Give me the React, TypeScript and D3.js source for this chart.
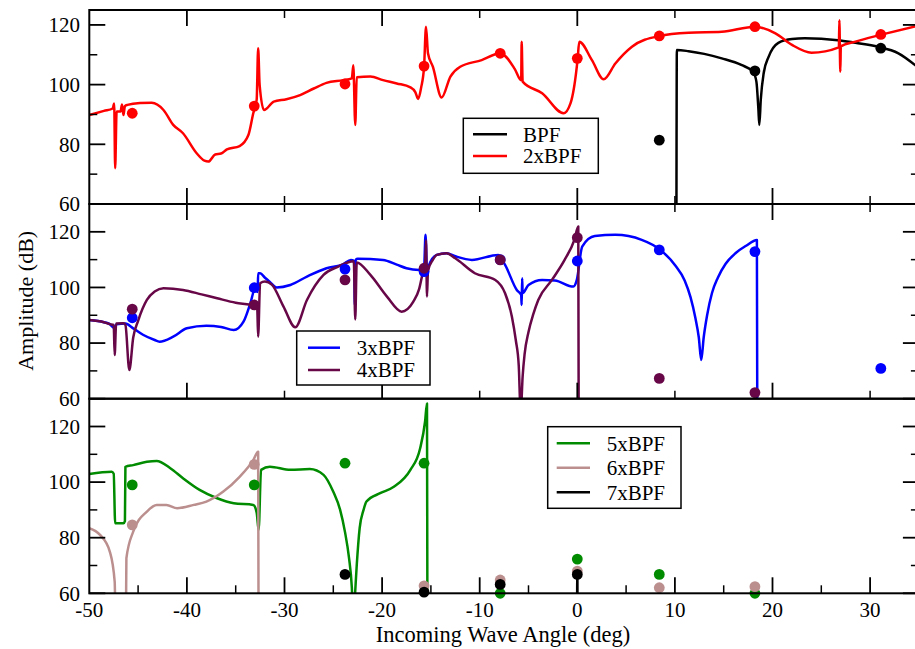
import React from 'react';
import * as d3 from 'd3';

type P = [number, number];

// ---------- data ----------
const xTickValues = [-50, -40, -30, -20, -10, 0, 10, 20, 30];
const yTickValues = [60, 80, 100, 120];

const bpfLine: P[] = [
  [10.15, 40], [10.2, 111.6], [11.4, 111.2], [13, 110.3], [14.8, 108.8], [16.8, 106.6], [18, 104.3],
  [18.35, 101], [18.55, 92], [18.65, 86.5], [18.8, 95], [19.1, 103.9], [19.6, 109.3], [20.6, 114], [22, 115.3],
  [23.3, 115.5], [26.7, 114.9], [28.5, 114], [30.8, 112.7], [32.9, 110.5], [35, 105.5],
];
const bpfDots: P[] = [[8.4, 81.4], [18.2, 104.6], [31.1, 112.2]];

const bpf2Line: P[] = [
  [-50, 89.8], [-48.5, 91.2], [-47.6, 92], [-47.45, 93.7], [-47.35, 72], [-47.2, 91], [-46.8, 91],
  [-46.65, 93.3], [-46.5, 89.8], [-46.35, 92.8], [-46.1, 93.2], [-44.8, 93.8], [-43.6, 93.9],
  [-42.4, 91.5], [-41.4, 86.5], [-40.4, 83.7], [-39, 77], [-38.2, 74.5], [-37.8, 74.2], [-37.1, 76.6],
  [-36.5, 76.9], [-35.9, 78.3], [-34.6, 79.4], [-33.7, 83.1], [-33.2, 90.4], [-32.85, 95],
  [-32.7, 112.2], [-32.55, 100], [-32.1, 91.5], [-31.1, 94.3], [-29.8, 95.1], [-28.4, 96.5],
  [-27, 98.7], [-25.7, 100.6], [-24, 101.5], [-23.1, 102.1], [-22.95, 106.5], [-22.75, 86.5],
  [-22.6, 102.5], [-21.2, 102.7], [-19.9, 101.5], [-18.5, 100.4], [-17.1, 99.1], [-16.6, 97.5],
  [-16.3, 95.2], [-16, 99], [-15.7, 106], [-15.5, 119.4], [-15.3, 110.5], [-14.8, 106], [-13.9, 95.7],
  [-13, 102.7], [-12, 106], [-9.8, 108.2], [-7.9, 110.5], [-6.4, 105.2], [-5.75, 101.5], [-5.7, 114.4],
  [-5.6, 101], [-3.6, 97.1], [-1.4, 90.4], [-0.7, 93.7], [0.04, 108.8], [0.2, 114.4], [1.5, 108.2],
  [2.7, 101.8], [3.9, 107.1], [5.6, 112.7], [8.4, 116.3], [11.4, 117.4], [14.8, 117.7], [18.2, 119.4],
  [20.3, 117.2], [22, 113.3], [24, 110.7], [26.8, 112.5], [26.85, 121.6], [26.95, 104.3], [27, 112.8],
  [28.5, 114.4], [31, 116.6], [35, 119.8],
];
const bpf2Dots: P[] = [
  [-45.6, 90.4], [-33.1, 92.8], [-23.8, 100.2], [-15.7, 106.2], [-7.9, 110.5], [0, 108.8],
  [8.4, 116.3], [18.2, 119.4], [31.1, 116.8],
];

const bpf3Line: P[] = [
  [-50, 88.3], [-48.5, 87.5], [-47.9, 86.8], [-47.5, 85.5], [-47.2, 86.8], [-46.3, 87], [-45.5, 85.3],
  [-44.5, 83], [-43.3, 81.1], [-42.8, 80.5], [-41.4, 82.3], [-40, 85.3], [-38, 86.2], [-36.5, 85.8],
  [-35.2, 84.7], [-34.2, 87.7], [-33.5, 94.3], [-33, 99.7], [-32.75, 98.4], [-32.7, 105.1],
  [-32.5, 105.1], [-32, 103.5], [-31.5, 102], [-30.8, 100], [-29.4, 100.9], [-27.7, 103.9],
  [-25.7, 106.9], [-24, 108.3], [-23.2, 109.9], [-22.85, 109.5], [-22.8, 93.7], [-22.7, 110],
  [-22.5, 110.3], [-19.9, 109.9], [-18.5, 108.2], [-17.5, 106.9], [-16.2, 106.3], [-15.7, 107],
  [-15.55, 118.9], [-15.4, 106], [-15.2, 108], [-14.4, 111.7], [-13.4, 112.3], [-12.5, 111.2],
  [-10.8, 109.9], [-8.1, 111.7], [-7.4, 108.1], [-6.2, 99.1], [-5.75, 97.3], [-5.7, 93.7],
  [-5.65, 103.3], [-5.6, 98], [-5, 100.9], [-3.6, 102.7], [-2.3, 102.5], [-0.4, 100.3], [-0.05, 102.7],
  [0.5, 114.7], [1.8, 118.5], [3.9, 118.9], [6.6, 117.1], [8.5, 113.5], [10, 108.1], [11, 102.5],
  [11.6, 96.5], [12.1, 89], [12.45, 82], [12.7, 73.9], [12.95, 82], [13.3, 90], [13.8, 98],
  [14.4, 103.5], [15.2, 108.5], [16.2, 112.3], [17.3, 115], [18.4, 117.1], [18.45, 40],
];
const bpf3Dots: P[] = [
  [-45.6, 89.1], [-33.1, 99.9], [-23.8, 106.6], [-15.7, 105.7], [-7.9, 110], [0, 109.5],
  [8.4, 113.5], [18.2, 112.9], [31.1, 70.9],
];

const bpf4Line: P[] = [
  [-50, 88.3], [-48.5, 87.5], [-47.9, 86.8], [-47.5, 86.5], [-47.4, 75.7], [-47.25, 87], [-46.5, 87.1],
  [-46.3, 86.5], [-45.9, 70.3], [-45.5, 82], [-45, 88], [-44.1, 95.5], [-43.3, 98.5], [-42.4, 99.7],
  [-40.4, 99.1], [-38.5, 97.5], [-36.9, 96.1], [-35, 94.5], [-33.2, 93.5], [-32.8, 93], [-32.7, 82.3],
  [-32.5, 101.5], [-32, 102.1], [-31.3, 101], [-30.1, 93.1], [-28.9, 85.7], [-27.7, 95.5], [-26, 104.5],
  [-24.5, 107.5], [-23.6, 108.9], [-22.9, 109.4], [-22.75, 88.5], [-22.6, 109], [-21.2, 104.5],
  [-19.5, 96.7], [-18, 91.3], [-16.8, 94.9], [-16.2, 99.5], [-15.8, 105.7], [-15.6, 108], [-15.5, 117],
  [-15.4, 96.7], [-15.3, 106], [-14.8, 109.9], [-14.4, 111.7], [-13.4, 112.3], [-12.5, 110.5],
  [-10.5, 105.1], [-8.4, 102.7], [-7.4, 97.9], [-6.7, 89.5], [-6.3, 81], [-6, 72], [-5.8, 55],
  [-5.6, 68], [-5.4, 76], [-5, 84], [-4.5, 90.5], [-4, 95.5], [-2.6, 102.7], [-1.3, 109.9],
  [-0.3, 117.1], [0.1, 121.9], [0.15, 40],
];
const bpf4Dots: P[] = [
  [-45.6, 92.2], [-33.1, 93.7], [-23.8, 102.7], [-15.7, 106.9], [-7.9, 109.9], [0, 117.9],
  [8.4, 67.3], [18.2, 62.2],
];

const bpf5Line: P[] = [
  [-50, 102.9], [-47.7, 103.7], [-47.5, 103], [-47.35, 85.2], [-46.5, 85.2], [-46.35, 86], [-46.3, 105.5],
  [-45.5, 106.1], [-44.1, 107.3], [-43.1, 107.6], [-41.7, 105], [-40.4, 101.4], [-38.7, 97.2],
  [-36.9, 94.2], [-35.2, 92.4], [-33.2, 91.8], [-32.85, 89], [-32.65, 82.8], [-32.4, 104.4],
  [-31.5, 105.5], [-29.4, 104.4], [-27.4, 104.7], [-26, 102.6], [-25, 96.5], [-24.3, 90], [-23.8, 82],
  [-23.4, 73], [-23.1, 62], [-22.95, 50], [-22.8, 58], [-22.6, 70], [-22.3, 83.4], [-21.9, 90],
  [-21.6, 93], [-20.2, 96], [-18.8, 98.3], [-17.1, 104.4], [-16.1, 112.2], [-15.6, 121.7],
  [-15.4, 128.3], [-15.35, 40],
];
const bpf5Dots: P[] = [
  [-45.6, 99], [-33.1, 99], [-23.8, 106.8], [-15.7, 106.8], [-7.9, 60], [0, 72.3], [8.4, 66.8], [18.2, 60],
];

const bpf6Line: P[] = [
  [-50, 83.4], [-48.9, 81], [-47.9, 75], [-47.4, 64.2], [-47.3, 50], [-46.25, 50], [-46.2, 72.6],
  [-45.5, 82.2], [-44.1, 89.4], [-43.1, 91.8], [-42.1, 91.8], [-41, 90.6], [-39.3, 91.8], [-38, 93],
  [-36.3, 96.5], [-34.6, 101.9], [-33.2, 107.9], [-32.7, 110.9], [-32.65, 40],
];
const bpf6Dots: P[] = [
  [-45.6, 84.6], [-33.1, 106.4], [-15.7, 62.7], [-7.9, 64.8], [0, 68], [8.4, 62], [18.2, 62.4],
];

const bpf7Line: P[] = [[-0.03, 40], [0, 66.8], [0.03, 40]];
const bpf7Dots: P[] = [[-23.8, 66.8], [-15.7, 60.4], [-7.9, 63.2], [0, 66.8]];

// ---------- layout ----------
const W = 915;
const H = 649;
const X0 = 89.3;
const X1 = 918.9;
const FONT = '"Liberation Serif", "Times New Roman", serif';

interface Series { name: string; color: string; line: P[]; dots: P[]; }
interface Panel {
  top: number; bottom: number; domain: [number, number];
  series: Series[];
  legend: { x: number; y: number; w: number; h: number; rows: number[]; lx0: number; lx1: number; tx: number };
  topTicks: boolean;
}

const panels: Panel[] = [
  {
    top: 10, bottom: 204, domain: [60, 125],
    series: [
      { name: 'BPF', color: '#000000', line: bpfLine, dots: bpfDots },
      { name: '2xBPF', color: '#ff0000', line: bpf2Line, dots: bpf2Dots },
    ],
    legend: { x: 463.3, y: 118.3, w: 135, h: 55, rows: [134.3, 156], lx0: 473, lx1: 507, tx: 523 },
    topTicks: true,
  },
  {
    top: 204, bottom: 398.7, domain: [60, 130],
    series: [
      { name: '3xBPF', color: '#0000ff', line: bpf3Line, dots: bpf3Dots },
      { name: '4xBPF', color: '#670748', line: bpf4Line, dots: bpf4Dots },
    ],
    legend: { x: 296.7, y: 331, w: 133.3, h: 54, rows: [347.7, 370], lx0: 308, lx1: 340, tx: 356.7 },
    topTicks: true,
  },
  {
    top: 398.7, bottom: 593.3, domain: [60, 130],
    series: [
      { name: '5xBPF', color: '#008b00', line: bpf5Line, dots: bpf5Dots },
      { name: '6xBPF', color: '#bc8f8f', line: bpf6Line, dots: bpf6Dots },
      { name: '7xBPF', color: '#000000', line: bpf7Line, dots: bpf7Dots },
    ],
    legend: { x: 547.7, y: 426.7, w: 133.3, h: 81.6, rows: [443.3, 467.7, 492.3], lx0: 556.7, lx1: 590, tx: 606.7 },
    topTicks: false,
  },
];

export default function App() {
  const x = d3.scaleLinear().domain([-50, 35]).range([X0, X1]);

  return (
    <svg width={W} height={H} style={{ position: 'absolute', left: 0, top: 0, background: '#fff' }}
      fontFamily={FONT}>
      <rect x={0} y={0} width={W} height={H} fill="#fff" />
      <defs>
        {panels.map((p, i) => (
          <clipPath id={`clip${i}`} key={i}>
            <rect x={X0} y={p.top} width={X1 - X0} height={p.bottom - p.top} />
          </clipPath>
        ))}
      </defs>
      {panels.map((p, i) => {
        const y = d3.scaleLinear().domain(p.domain).range([p.bottom, p.top]);
        const line = d3.line<P>().x(d => x(d[0])).y(d => y(d[1])).curve(d3.curveMonotoneX);
        const yMinor = d3.range(p.domain[0] + 10, p.domain[1], 20);
        const isLast = i === panels.length - 1;
        const xMajBottom = isLast ? xTickValues.slice(1) : [-40, -20, 0, 20];
        const xMinBottom = isLast ? d3.range(-45, 35, 10) : [-30, -10, 10, 30];
        const xMajTop = [-40, -20, 0, 20];
        const xMinTop = [-30, -10, 10, 30];
        return (
          <g key={i}>
            <g clipPath={`url(#clip${i})`}>
              {p.series.map(s => (
                <path key={s.name} d={line(s.line) || ''} fill="none" stroke={s.color}
                  strokeWidth={2.5} strokeLinejoin="round" />
              ))}
            </g>
            {p.series.map(s => (
              <g key={s.name + 'd'}>
                {s.dots.map((d, j) => (
                  <circle key={j} cx={x(d[0])} cy={y(d[1])} r={5.4} fill={s.color} />
                ))}
              </g>
            ))}
            <rect x={X0} y={p.top} width={X1 - X0} height={p.bottom - p.top} fill="none"
              stroke="#000" strokeWidth={2} />
            {yTickValues.map(v => (
              <g key={'yt' + v}>
                <line x1={X0} x2={X0 + 16} y1={y(v)} y2={y(v)} stroke="#000" strokeWidth={1.8} />
                <line x1={X1} x2={X1 - 16} y1={y(v)} y2={y(v)} stroke="#000" strokeWidth={1.8} />
                <text x={80} y={y(v)} dy="0.35em" textAnchor="end" fontSize={21}>{v}</text>
              </g>
            ))}
            {yMinor.map(v => (
              <g key={'ym' + v}>
                <line x1={X0} x2={X0 + 8} y1={y(v)} y2={y(v)} stroke="#000" strokeWidth={1.5} />
                <line x1={X1} x2={X1 - 8} y1={y(v)} y2={y(v)} stroke="#000" strokeWidth={1.5} />
              </g>
            ))}
            {xMajBottom.map(v => (
              <line key={'xb' + v} x1={x(v)} x2={x(v)} y1={p.bottom} y2={p.bottom - 16} stroke="#000" strokeWidth={1.8} />
            ))}
            {xMinBottom.map(v => (
              <line key={'xbm' + v} x1={x(v)} x2={x(v)} y1={p.bottom} y2={p.bottom - 8} stroke="#000" strokeWidth={1.5} />
            ))}
            {p.topTicks && xMajTop.map(v => (
              <line key={'xt' + v} x1={x(v)} x2={x(v)} y1={p.top} y2={p.top + 16} stroke="#000" strokeWidth={1.8} />
            ))}
            {p.topTicks && xMinTop.map(v => (
              <line key={'xtm' + v} x1={x(v)} x2={x(v)} y1={p.top} y2={p.top + 8} stroke="#000" strokeWidth={1.5} />
            ))}
            {isLast && xTickValues.map(v => (
              <text key={'xl' + v} x={x(v)} y={617} textAnchor="middle" fontSize={21}>{v}</text>
            ))}
            <rect x={p.legend.x} y={p.legend.y} width={p.legend.w} height={p.legend.h} fill="#fff"
              stroke="#000" strokeWidth={1.5} />
            {p.series.map((s, k) => (
              <g key={'lg' + s.name}>
                <line x1={p.legend.lx0} x2={p.legend.lx1} y1={p.legend.rows[k]} y2={p.legend.rows[k]}
                  stroke={s.color} strokeWidth={2.5} />
                <text x={p.legend.tx} y={p.legend.rows[k]} dy="0.35em" fontSize={21}>{s.name}</text>
              </g>
            ))}
          </g>
        );
      })}
      <text x={503} y={642} textAnchor="middle" fontSize={22.5}>Incoming Wave Angle (deg)</text>
      <text transform="translate(33,300.8) rotate(-90)" textAnchor="middle" fontSize={22}>Amplitude (dB)</text>
    </svg>
  );
}
